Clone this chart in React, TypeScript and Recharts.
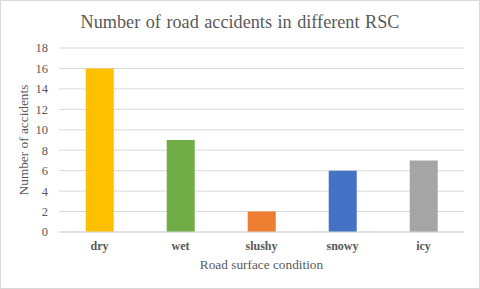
import React from 'react';
import { BarChart, Bar, XAxis, YAxis, CartesianGrid, Cell } from 'recharts';

const categories = ['dry', 'wet', 'slushy', 'snowy', 'icy'];
const accidents = [16, 9, 2, 6, 7];
const colors = ['#FFC000', '#70AD47', '#ED7D31', '#4472C4', '#A5A5A5'];
const yTicks = [0, 2, 4, 6, 8, 10, 12, 14, 16, 18];

const data = categories.map((c, i) => ({ name: c, value: accidents[i] }));

const FONT = '"Liberation Serif", "Times New Roman", serif';

export default function App() {
  return (
    <div style={{ position: 'absolute', left: 0, top: 0, width: 480, height: 289, background: '#fff', fontFamily: FONT }}>
      <div style={{ position: 'absolute', left: 0, top: 0, width: 478, height: 287, border: '1px solid #d9d9d9' }} />
      <div style={{ position: 'absolute', left: 0, top: 11, width: 480, textAlign: 'center', fontSize: 18.2, color: '#595959', wordSpacing: 1, lineHeight: '22px' }}>
        Number of road accidents in different RSC
      </div>
      <BarChart
        width={480}
        height={289}
        data={data}
        margin={{ top: 48, right: 16, bottom: 0, left: 0 }}
        barCategoryGap="33%"
        style={{ position: 'absolute', left: 0, top: 0, fontFamily: FONT }}
      >
        <CartesianGrid vertical={false} stroke="#d9d9d9" strokeWidth={1} />
        <XAxis
          dataKey="name"
          height={57}
          tickLine={false}
          axisLine={{ stroke: '#d9d9d9' }}
          tickMargin={3}
          tick={{ fill: '#595959', fontSize: 12, fontWeight: 'bold', fontFamily: FONT }}
          label={{ value: 'Road surface condition', position: 'insideBottom', offset: 20, fill: '#595959', fontSize: 13.3, fontFamily: FONT }}
        />
        <YAxis
          width={59}
          domain={[0, 18]}
          ticks={yTicks}
          interval={0}
          tickLine={false}
          axisLine={false}
          tickMargin={5}
          tick={{ fill: '#595959', fontSize: 12.5, fontFamily: FONT }}
          label={{ value: 'Number of accidents', angle: -90, position: 'insideLeft', offset: 23, fill: '#595959', fontSize: 13.3, fontFamily: FONT, textAnchor: 'middle' }}
        />
        <Bar dataKey="value" isAnimationActive={false}>
          {data.map((d, i) => (
            <Cell key={d.name} fill={colors[i]} />
          ))}
        </Bar>
      </BarChart>
    </div>
  );
}
